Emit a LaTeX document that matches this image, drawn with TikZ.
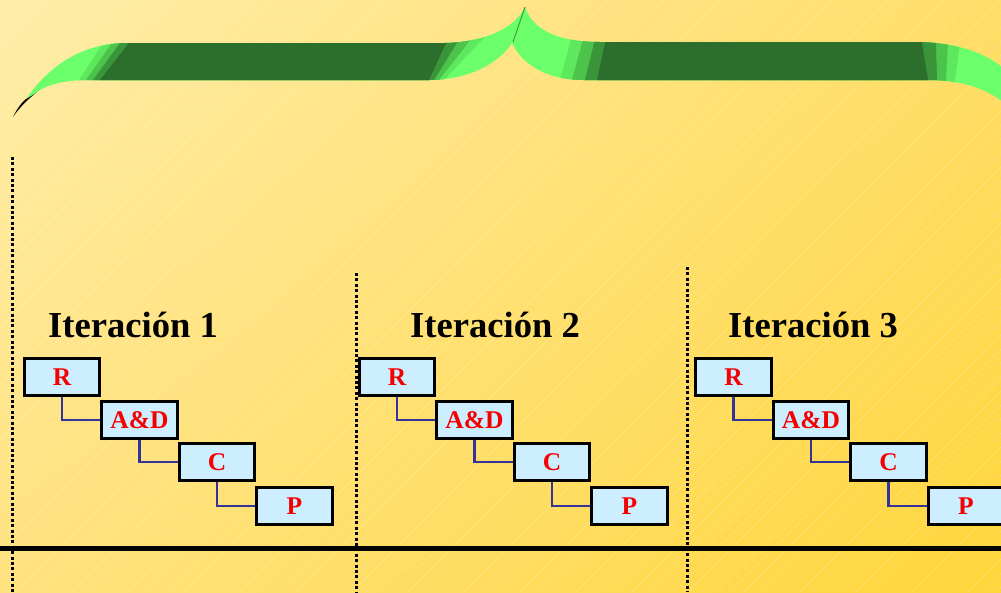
\documentclass[tikz,border=0pt]{standalone}
\usepackage{fontspec}
\setmainfont{Liberation Serif}
\usetikzlibrary{calc,shadings}
\definecolor{bgA}{HTML}{FFEDA8}
\definecolor{bgB}{HTML}{FFDD68}
\definecolor{bgC}{HTML}{FFE27E}
\definecolor{bgD}{HTML}{FFD63A}
\definecolor{boxblue}{HTML}{CCEEFF}
\definecolor{linkblue}{HTML}{333399}
\definecolor{boxred}{HTML}{F50000}
\definecolor{gL}{HTML}{6CFF6C}
\definecolor{gA}{HTML}{5EE85E}
\definecolor{gB}{HTML}{4CC44C}
\definecolor{gC}{HTML}{3A943A}
\definecolor{gD}{HTML}{2C6E2C}
\definecolor{gS}{HTML}{2F8F2F}
\newcommand\bracestripe[5]{\fill[#1] ($(#2,43)!-1.2!(#3,80)$) -- ($(#2,43)!2.2!(#3,80)$) -- ($(#4,43)!2.2!(#5,80)$) -- ($(#4,43)!-1.2!(#5,80)$) -- cycle;}
\begin{document}
\begin{tikzpicture}[x=1pt,y=-1pt,
  stepbox/.style={draw=black,line width=3pt,fill=boxblue,minimum width=75.5pt,minimum height=37.5pt,inner sep=0pt,font=\fontsize{25.5}{25.5}\selectfont\bfseries,text=boxred},
  link/.style={draw=linkblue,line width=2.4pt},
  itertitle/.style={anchor=base west,font=\fontsize{36.6}{36.6}\selectfont\bfseries,inner sep=0pt},
  dotline/.style={line width=3pt,dash pattern=on 3pt off 2.4pt},
  hatch/.style={white,opacity=0.22,line width=0.5pt}
]
\useasboundingbox (0,0) rectangle (1001,592);
\begin{scope}
  \clip (0,0) rectangle (1001,592);
  \shade[upper left=bgA, upper right=bgB, lower left=bgC, lower right=bgD] (0,0) rectangle (1001,592);
  \foreach \a in {-600,-586,...,1010} \draw[hatch] (\a,592) -- (\a+592,0);
\end{scope}

% brace: black back tip
\fill[black] (13,117) .. controls (17,109) and (21,103) .. (26,99) -- (37,92) .. controls (28,99) and (19,108) .. (13,117) -- cycle;
% left half
\begin{scope}
  \clip (26,99) .. controls (45,72) and (75,44) .. (125,43) -- (445,43) .. controls (485,42) and (515,28) .. (525,7) -- (512,43) .. controls (500,62) and (470,80) .. (430,80) -- (90,80) .. controls (65,80) and (48,84) .. (37,92) -- cycle;
  \fill[gL] (0,0) rectangle (540,130);
  \bracestripe{gA}{103}{79}{479}{444}
  \bracestripe{gB}{112}{86}{468}{439}
  \bracestripe{gC}{120}{93}{457}{434}
  \bracestripe{gD}{129}{100}{446}{429}
\end{scope}
% right half
\begin{scope}
  \clip (525,7) .. controls (532,28) and (555,42) .. (600,42) -- (920,42) .. controls (955,43) and (985,52) .. (1003,68) -- (1003,102) .. controls (985,88) and (960,80) .. (928,80) -- (583,80) .. controls (548,80) and (522,65) .. (512,43) -- cycle;
  \fill[gL] (500,0) rectangle (1010,130);
  \bracestripe{gA}{570}{560}{960}{955}
  \bracestripe{gB}{582}{572}{948}{946}
  \bracestripe{gC}{594}{585}{936}{937}
  \bracestripe{gD}{605}{597}{922}{928}
\end{scope}
\coordinate (cusp) at (525,7);
\coordinate (notch) at (513,42);
\draw[gS,line width=0.8pt] (cusp) -- (notch);

% dotted separators
\coordinate (d1t) at (12.5,157);  \coordinate (d1b) at (12.5,592);
\coordinate (d2t) at (356,273);   \coordinate (d2b) at (356,592);
\coordinate (d3t) at (687,267);   \coordinate (d3b) at (687,592);
\draw[dotline] (d1t) -- (d1b);
\draw[dotline] (d2t) -- (d2b);
\draw[dotline] (d3t) -- (d3b);

% time axis
\coordinate (axl) at (0,548);
\coordinate (axr) at (1001,548);
\draw[line width=5pt] (axl) -- (axr);

% titles
\node[itertitle] (t1) at (48,337) {Iteración 1};
\node[itertitle] (t2) at (410,337) {Iteración 2};
\node[itertitle] (t3) at (728,337) {Iteración 3};

% iterations
\foreach \k/\ox in {1/0,2/335,3/671.5}{
  \node[stepbox] (R\k) at ({62+\ox},377) {R};
  \node[stepbox] (AD\k) at ({139.5+\ox},420) {A\&D};
  \node[stepbox] (C\k) at ({217+\ox},462) {C};
  \node[stepbox] (P\k) at ({294.5+\ox},506) {P};
}
\foreach \k in {1,2,3}{
  \draw[link] (R\k.south) |- (AD\k.west);
  \draw[link] (AD\k.south) |- (C\k.west);
  \draw[link] (C\k.south) |- (P\k.west);
}
\end{tikzpicture}
\end{document}
